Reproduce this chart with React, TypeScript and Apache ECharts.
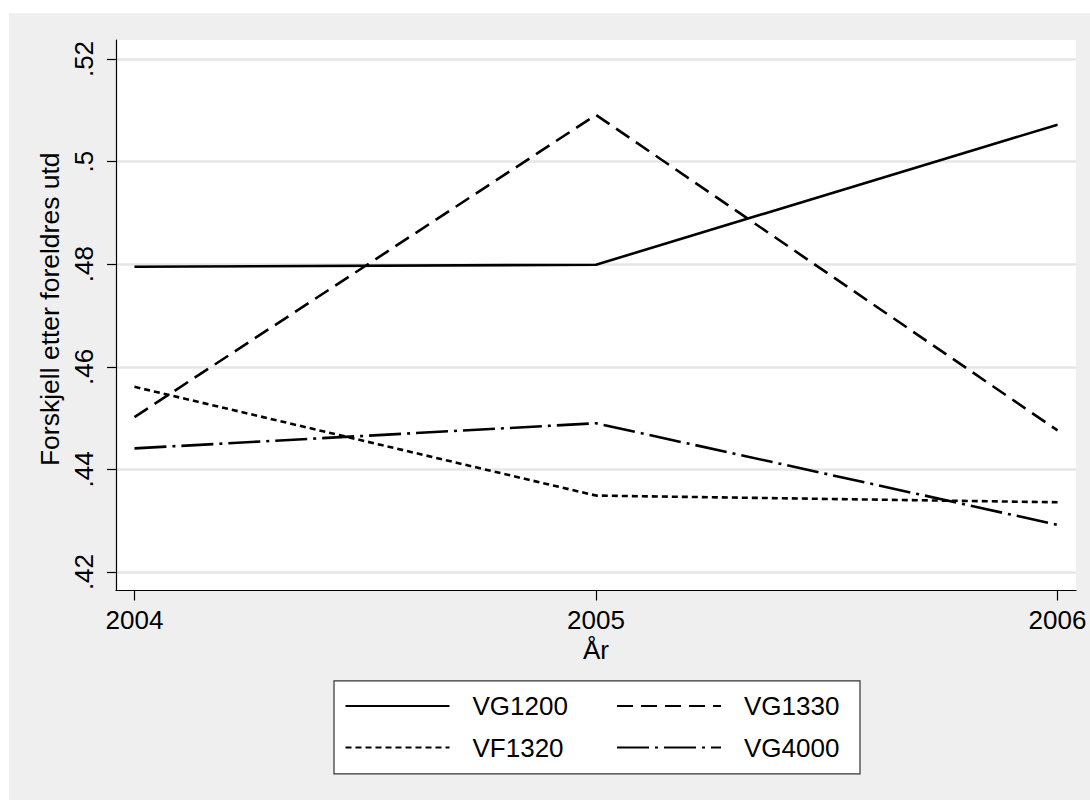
import React, { useEffect, useRef } from "react";
import * as echarts from "echarts";

const years = [2004, 2005, 2006];
const yTicks = [0.42, 0.44, 0.46, 0.48, 0.5, 0.52];
const vg1200 = [0.4795, 0.4799, 0.5072];
const vg1330 = [0.4502, 0.5091, 0.4476];
const vf1320 = [0.4561, 0.4349, 0.4336];
const vg4000 = [0.4441, 0.449, 0.4292];
const seriesNames = ["VG1200", "VG1330", "VF1320", "VG4000"];
const xTitle = "År";
const yTitle = "Forskjell etter foreldres utd";

const FONT = "'Liberation Sans', Arial, Helvetica, sans-serif";

export default function App() {
  const ref = useRef<HTMLDivElement>(null);
  useEffect(() => {
    if (!ref.current) return;
    const chart = echarts.init(ref.current, null, { renderer: "svg" });
    const values = [vg1200, vg1330, vf1320, vg4000];
    const dashes: any[] = ["solid", [16, 8], [6, 4], [32, 6, 3, 6]];
    const legendCommon = {
      orient: "horizontal",
      padding: 0,
      itemWidth: 104,
      itemHeight: 30,
      itemGap: 43.5,
      selectedMode: false,
      itemStyle: { color: "rgba(0,0,0,0)", borderWidth: 0, opacity: 0 },
      textStyle: {
        fontFamily: FONT,
        fontSize: 26,
        color: "#000",
        width: 100,
        lineHeight: 30,
        padding: [0, 0, 0, 18],
      },
    };
    chart.setOption({
      animation: false,
      backgroundColor: "#efefef",
      textStyle: { fontFamily: FONT },
      grid: {
        left: 107,
        top: 27,
        width: 960,
        height: 550.5,
        show: true,
        backgroundColor: "#ffffff",
        borderWidth: 0,
        containLabel: false,
      },
      graphic: [
        {
          type: "rect",
          left: 324.4,
          top: 667.3,
          z: -1,
          shape: { width: 526, height: 93 },
          style: { fill: "#ffffff", stroke: "#333333", lineWidth: 1.2 },
        },
      ],
      legend: [
        { ...legendCommon, left: 335.5, top: 678, data: [seriesNames[0], seriesNames[1]] },
        { ...legendCommon, left: 335.5, top: 719.5, data: [seriesNames[2], seriesNames[3]] },
      ],
      xAxis: {
        type: "value",
        min: 2003.96,
        max: 2006.04,
        name: xTitle,
        nameLocation: "middle",
        nameGap: 43,
        nameTextStyle: { fontFamily: FONT, fontSize: 26, color: "#000" },
        axisLine: { show: true, onZero: false, lineStyle: { color: "#000", width: 1.2 } },
        axisTick: { show: true, length: 10, customValues: years, lineStyle: { color: "#000", width: 1.2 } },
        axisLabel: {
          customValues: years,
          margin: 16,
          fontFamily: FONT,
          fontSize: 26,
          color: "#000",
          formatter: (v: number) => String(v),
        },
        splitLine: { show: false },
      },
      yAxis: {
        type: "value",
        min: 0.4164,
        max: 0.5237,
        name: yTitle,
        nameLocation: "middle",
        nameRotate: 90,
        nameGap: 52,
        nameTextStyle: {
          fontFamily: FONT,
          fontSize: 26.5,
          color: "#000",
          padding: [0, 0, 0, 12],
        },
        axisLine: { show: true, onZero: false, lineStyle: { color: "#000", width: 1.2 } },
        axisTick: { show: true, length: 9, customValues: yTicks, lineStyle: { color: "#000", width: 1.2 } },
        axisLabel: {
          customValues: yTicks,
          rotate: 90,
          margin: 19,
          fontFamily: FONT,
          fontSize: 26,
          color: "#000",
          formatter: (v: number) => String(+v.toFixed(2)).replace(/^0/, ""),
        },
        splitLine: { show: true, lineStyle: { color: "#e6e6e6", width: 2.5 } },
      },
      series: seriesNames.map((name, i) => ({
        name,
        type: "line",
        symbol: "none",
        data: years.map((y, j) => [y, values[i][j]]),
        lineStyle: { color: "#000", width: 2.6, type: dashes[i], cap: "butt" },
        itemStyle: { color: "#000" },
      })),
    });
    return () => chart.dispose();
  }, []);
  return (
    <div
      ref={ref}
      style={{ position: "absolute", left: 9, top: 13, width: 1081, height: 787 }}
    />
  );
}
